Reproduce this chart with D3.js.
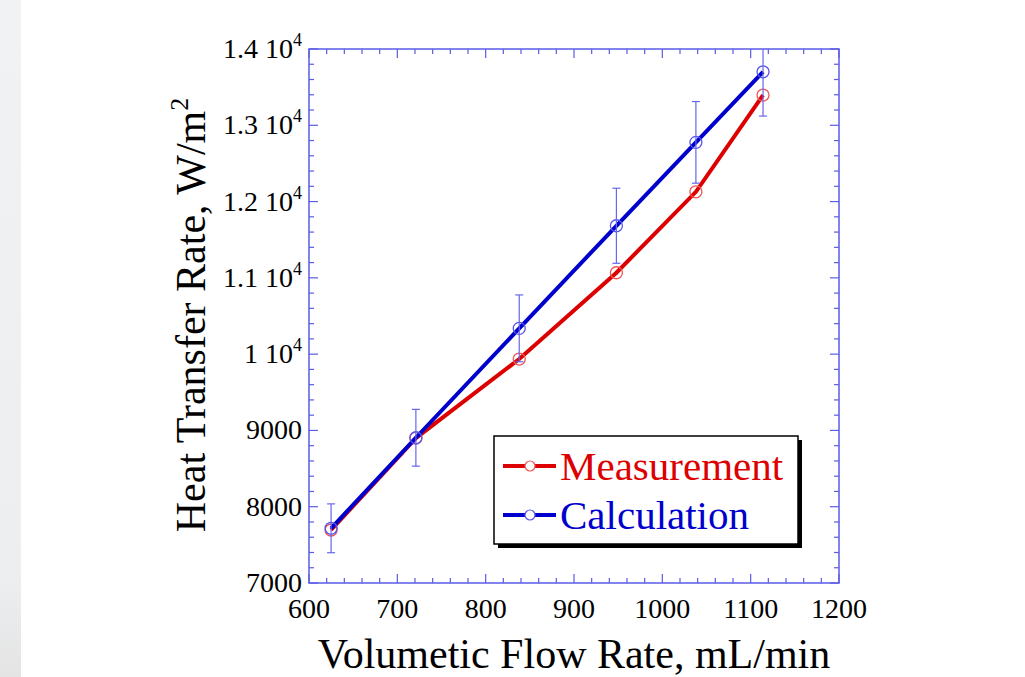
<!DOCTYPE html>
<html>
<head>
<meta charset="utf-8">
<script src="https://cdn.jsdelivr.net/npm/d3@7"></script>
<style>
  body { margin: 0; background: #fff; }
  text { font-family: "Liberation Serif", "Times New Roman", serif; }
</style>
</head>
<body>
<div id="chart"></div>
<script>
// Data
const flowRates = [625, 721, 838, 948, 1038, 1114];
const measurement = [7695, 8900, 9936, 11067, 12128, 13396];
const calculation = [7717, 8904, 10338, 11683, 12776, 13701];
const calcError = [320, 372, 438, 492, 535, 580];

const xTicks = [600, 700, 800, 900, 1000, 1100, 1200];
const yTicks = [7000, 8000, 9000, 10000, 11000, 12000, 13000, 14000];
// labels for y ticks: [mantissa, exponent]
const yTickLabels = [["7000", null], ["8000", null], ["9000", null], ["1 10", "4"],
  ["1.1 10", "4"], ["1.2 10", "4"], ["1.3 10", "4"], ["1.4 10", "4"]];

const W = 1025, H = 677;
const frameColor = "#5b5be8";
const red = "#dd0000", blue = "#0000cc";

const svg = d3.select("#chart").append("svg")
    .attr("width", W)
    .attr("height", H);

// left gray strip of the screenshot
const grad = svg.append("defs").append("linearGradient")
    .attr("id", "strip").attr("x1", 0).attr("y1", 0).attr("x2", 0).attr("y2", 1);
grad.append("stop").attr("offset", "0%").attr("stop-color", "#f1f2f4");
grad.append("stop").attr("offset", "85%").attr("stop-color", "#eceef0");
grad.append("stop").attr("offset", "100%").attr("stop-color", "#e4e4e4");
svg.append("rect").attr("x", 0).attr("y", 0).attr("width", 21).attr("height", H)
    .attr("fill", "url(#strip)");

const x = d3.scaleLinear().domain([600, 1200]).range([309, 839]);
const y = d3.scaleLinear().domain([7000, 14000]).range([583, 49]);

svg.append("defs").append("clipPath").attr("id", "plotclip")
  .append("rect").attr("x", 309).attr("y", 49).attr("width", 530).attr("height", 534);

// minor / major ticks on all four sides, pointing inward
const xMinor = d3.range(600, 1201, 20);
const yMinor = d3.range(7000, 14001, 200);
const ticks = svg.append("g").attr("stroke", frameColor).attr("stroke-width", 1.2);
xMinor.forEach(v => {
  const len = v % 100 === 0 ? 9 : 5;
  ticks.append("line").attr("x1", x(v)).attr("x2", x(v)).attr("y1", y(7000)).attr("y2", y(7000) - len);
  ticks.append("line").attr("x1", x(v)).attr("x2", x(v)).attr("y1", y(14000)).attr("y2", y(14000) + len);
});
yMinor.forEach(v => {
  const len = v % 1000 === 0 ? 9 : 5;
  ticks.append("line").attr("x1", x(600)).attr("x2", x(600) + len).attr("y1", y(v)).attr("y2", y(v));
  ticks.append("line").attr("x1", x(1200)).attr("x2", x(1200) - len).attr("y1", y(v)).attr("y2", y(v));
});

// frame
svg.append("rect")
    .attr("x", x(600)).attr("y", y(14000))
    .attr("width", x(1200) - x(600)).attr("height", y(7000) - y(14000))
    .attr("fill", "none").attr("stroke", frameColor).attr("stroke-width", 1.5);

// x tick labels
svg.append("g").selectAll("text").data(xTicks).join("text")
    .attr("x", d => x(d)).attr("y", 618)
    .attr("text-anchor", "middle").attr("font-size", 28).attr("fill", "#000")
    .text(d => d);

// y tick labels
const yl = svg.append("g").selectAll("text").data(yTicks).join("text")
    .attr("x", 302).attr("y", d => y(d) + 9)
    .attr("text-anchor", "end").attr("font-size", 28).attr("fill", "#000");
yl.each(function(d, i) {
  const t = d3.select(this);
  const lab = yTickLabels[i];
  t.append("tspan").text(lab[0]);
  if (lab[1]) t.append("tspan").attr("dy", -12).attr("font-size", 18).text(lab[1]);
});

// axis titles
svg.append("text")
    .attr("x", 574).attr("y", 668)
    .attr("text-anchor", "middle").attr("font-size", 42).attr("fill", "#000")
    .text("Volumetic Flow Rate, mL/min");

const yt = svg.append("text")
    .attr("transform", "translate(205,315) rotate(-90)")
    .attr("text-anchor", "middle").attr("font-size", 42).attr("fill", "#000");
yt.append("tspan").text("Heat Transfer Rate, W/m");
yt.append("tspan").attr("dy", -17).attr("font-size", 26).text("2");

// series
const plot = svg.append("g").attr("clip-path", "url(#plotclip)");
const line = d3.line().x(d => x(d[0])).y(d => y(d[1]));

const measPts = flowRates.map((f, i) => [f, measurement[i]]);
const calcPts = flowRates.map((f, i) => [f, calculation[i]]);

plot.append("path").datum(measPts).attr("d", line)
    .attr("fill", "none").attr("stroke", red).attr("stroke-width", 4);
plot.selectAll("circle.meas").data(measPts).join("circle")
    .attr("class", "meas")
    .attr("cx", d => x(d[0])).attr("cy", d => y(d[1])).attr("r", 6)
    .attr("fill", "none").attr("stroke", "#ee5555").attr("stroke-width", 1.3);

plot.append("path").datum(calcPts).attr("d", line)
    .attr("fill", "none").attr("stroke", blue).attr("stroke-width", 4);
plot.selectAll("circle.calc").data(calcPts).join("circle")
    .attr("class", "calc")
    .attr("cx", d => x(d[0])).attr("cy", d => y(d[1])).attr("r", 6)
    .attr("fill", "none").attr("stroke", "#5555ee").attr("stroke-width", 1.3);

// error bars on the calculation
const eb = plot.append("g").attr("stroke", "#6666ee").attr("stroke-width", 1.2);
calcPts.forEach((d, i) => {
  const lo = y(d[1] - calcError[i]), hi = y(d[1] + calcError[i]);
  const cx = x(d[0]);
  eb.append("line").attr("x1", cx).attr("x2", cx).attr("y1", lo).attr("y2", hi);
  eb.append("line").attr("x1", cx - 4).attr("x2", cx + 4).attr("y1", lo).attr("y2", lo);
  eb.append("line").attr("x1", cx - 4).attr("x2", cx + 4).attr("y1", hi).attr("y2", hi);
});

// legend
const lg = svg.append("g");
lg.append("rect").attr("x", 498).attr("y", 440).attr("width", 304).attr("height", 108).attr("fill", "#000");
lg.append("rect").attr("x", 494).attr("y", 436).attr("width", 304).attr("height", 108)
    .attr("fill", "#fff").attr("stroke", "#000").attr("stroke-width", 1.5);
const legendItems = [
  { name: "Measurement", color: red, marker: "#ee5555", y: 466 },
  { name: "Calculation", color: blue, marker: "#5555ee", y: 515 }
];
legendItems.forEach(it => {
  lg.append("line").attr("x1", 503).attr("x2", 556).attr("y1", it.y).attr("y2", it.y)
      .attr("stroke", it.color).attr("stroke-width", 4);
  lg.append("circle").attr("cx", 530).attr("cy", it.y).attr("r", 5)
      .attr("fill", "#fff").attr("stroke", it.marker).attr("stroke-width", 1.2);
  lg.append("text").attr("x", 560).attr("y", it.y + 14)
      .attr("font-size", 41).attr("fill", it.color).text(it.name);
});
</script>
</body>
</html>
